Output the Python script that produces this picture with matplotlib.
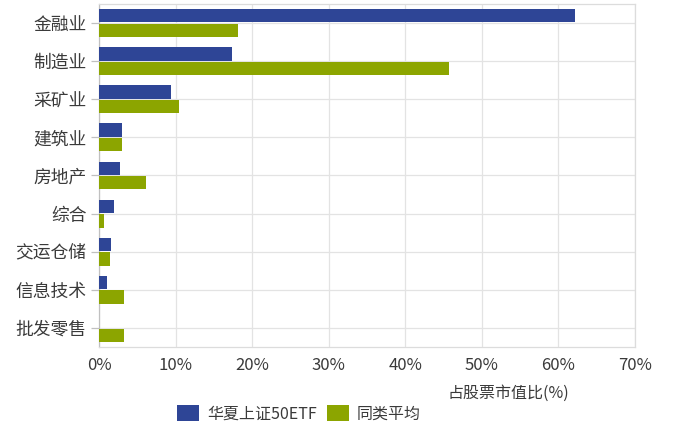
import matplotlib
matplotlib.use("Agg")
import matplotlib.pyplot as plt
import numpy as np

plt.rcParams['font.family'] = ['Noto Sans CJK SC', 'DejaVu Sans']

categories = ["金融业", "制造业", "采矿业", "建筑业", "房地产", "综合", "交运仓储", "信息技术", "批发零售"]
fund_values = [62.1, 17.4, 9.4, 3.0, 2.7, 2.0, 1.6, 1.1, 0.0]
peer_values = [18.2, 45.7, 10.4, 3.0, 6.1, 0.6, 1.4, 3.3, 3.3]
series_names = ["华夏上证50ETF", "同类平均"]
x_ticks = [0, 10, 20, 30, 40, 50, 60, 70]
x_tick_labels = ["0%", "10%", "20%", "30%", "40%", "50%", "60%", "70%"]
x_title = "占股票市值比(%)"

blue = "#2e4596"
green = "#8ca500"
text_color = "#3a3a3a"
grid_color = "#e3e3e3"

fig = plt.figure(figsize=(6.73, 4.28), dpi=100)
ax = fig.add_axes([99 / 673, 1 - 347 / 428, (635 - 99) / 673, (347 - 4) / 428])

y = np.arange(len(categories))
h = 0.35
ax.barh(y - 0.19, fund_values, height=h, color=blue, label=series_names[0], zorder=3)
ax.barh(y + 0.19, peer_values, height=h, color=green, label=series_names[1], zorder=3)

ax.set_xlim(0, 70)
ax.set_ylim(len(categories) - 0.5, -0.5)
ax.set_xticks(x_ticks)
ax.set_xticklabels(x_tick_labels)
ax.set_yticks(y)
ax.set_yticklabels(categories)

ax.grid(True, color=grid_color, linewidth=0.9, zorder=0)
ax.set_axisbelow(True)

for side in ["top", "right", "bottom"]:
    ax.spines[side].set_color("#dcdcdc")
    ax.spines[side].set_linewidth(0.9)
ax.spines["left"].set_color("#c0c0c0")
ax.spines["left"].set_linewidth(0.9)

ax.tick_params(axis="y", length=6, width=0.9, color="#c0c0c0", pad=3,
               labelsize=12.8, labelcolor=text_color)
ax.tick_params(axis="x", length=0, pad=7, labelsize=12, labelcolor=text_color)

fig.text(569 / 673, 1 - 393 / 428, x_title, ha="right", va="center",
         fontsize=11.5, color=text_color)

fig.legend(loc="center", bbox_to_anchor=(299 / 673, 1 - 414 / 428), ncol=2,
           frameon=False, fontsize=11.5, handlelength=1.4, handleheight=1.1,
           handletextpad=0.5, columnspacing=0.6, labelcolor=text_color)

fig.savefig("out.png", dpi=100)
